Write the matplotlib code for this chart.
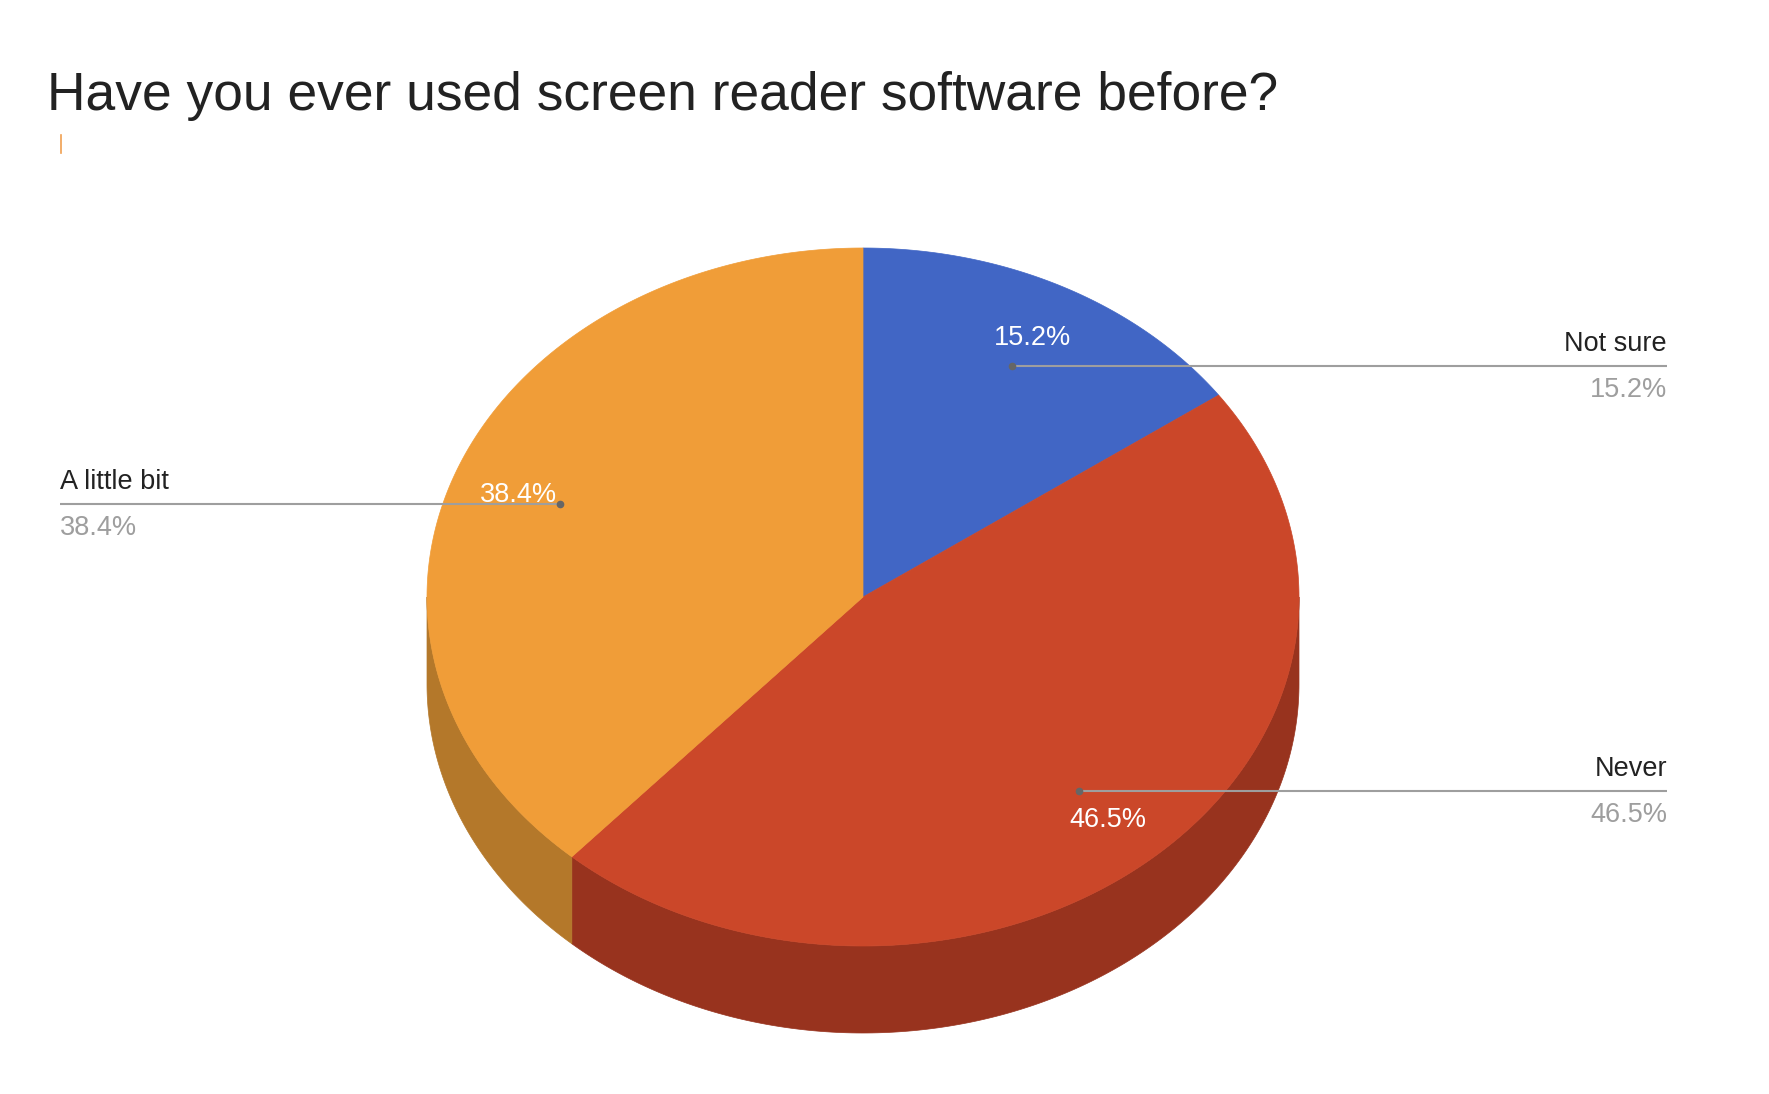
import numpy as np
import matplotlib
matplotlib.use("Agg")
from matplotlib import pyplot as plt
from matplotlib.patches import Polygon

# data
labels = ["Not sure", "Never", "A little bit"]
values = [15.2, 46.5, 38.4]
top_colors = ["#4166c5", "#cb4729", "#f09d38"]
side_colors = ["#35539f", "#98331e", "#b4782a"]
label_side = ["right", "right", "left"]

title = "Have you ever used screen reader software before?"

plt.rcParams['font.family'] = ['Liberation Sans', 'DejaVu Sans']

W, H = 1769, 1094
fig = plt.figure(figsize=(W / 100, H / 100), dpi=100)
ax = fig.add_axes([0, 0, 1, 1])
ax.set_xlim(0, W)
ax.set_ylim(H, 0)
ax.axis('off')

# pie geometry (pixels, y down)
cx, cy = 863, 597
rx, ry = 436, 349
depth = 87


def pt(theta, r=1.0):
    # theta in degrees, clockwise from 12 o'clock
    t = np.radians(theta)
    return cx + r * rx * np.sin(t), cy - r * ry * np.cos(t)


fracs = np.array(values) / np.sum(values)
bounds = np.concatenate([[0], np.cumsum(fracs) * 360])

# side walls (visible front half: 90..270 deg)
for i in range(len(values)):
    a0, a1 = max(bounds[i], 90), min(bounds[i + 1], 270)
    if a1 <= a0:
        continue
    th = np.linspace(a0, a1, 200)
    xs, ys = pt(th)
    poly = np.column_stack([np.concatenate([xs, xs[::-1]]),
                            np.concatenate([ys, ys[::-1] + depth])])
    ax.add_patch(Polygon(poly, closed=True, facecolor=side_colors[i],
                         edgecolor=side_colors[i], lw=0.5))

# top face
for i in range(len(values)):
    th = np.linspace(bounds[i], bounds[i + 1], 300)
    xs, ys = pt(th)
    poly = np.column_stack([np.concatenate([[cx], xs]), np.concatenate([[cy], ys])])
    ax.add_patch(Polygon(poly, closed=True, facecolor=top_colors[i],
                         edgecolor=top_colors[i], lw=0.5))

# labels
left_x, right_x = 60, 1667
for i in range(len(values)):
    mid = (bounds[i] + bounds[i + 1]) / 2
    dx, dy = pt(mid, 0.745)
    tx, ty = pt(mid, 0.845)
    pct = f"{values[i]:.1f}%"
    ax.text(tx, ty + 3, pct, color="white", fontsize=19.5, ha="center", va="center")
    if label_side[i] == "right":
        ax.plot([dx, right_x], [dy, dy], color="#9e9e9e", lw=1.5, solid_capstyle="butt")
        ax.text(right_x, dy - 22, labels[i], color="#222222", fontsize=19.5, ha="right", va="center")
        ax.text(right_x, dy + 24, pct, color="#9e9e9e", fontsize=19.5, ha="right", va="center")
    else:
        ax.plot([left_x, dx], [dy, dy], color="#9e9e9e", lw=1.5, solid_capstyle="butt")
        ax.text(left_x, dy - 22, labels[i], color="#222222", fontsize=19.5, ha="left", va="center")
        ax.text(left_x, dy + 24, pct, color="#9e9e9e", fontsize=19.5, ha="left", va="center")
    ax.plot(dx, dy, 'o', color="#666666", ms=4.5)

# small orange tick under the title
ax.plot([61, 61], [135, 153], color="#f0a050", lw=1.2)

ax.text(47, 110, title, color="#222222", fontsize=38.4, ha="left", va="baseline")

plt.savefig("out.png", dpi=100)
